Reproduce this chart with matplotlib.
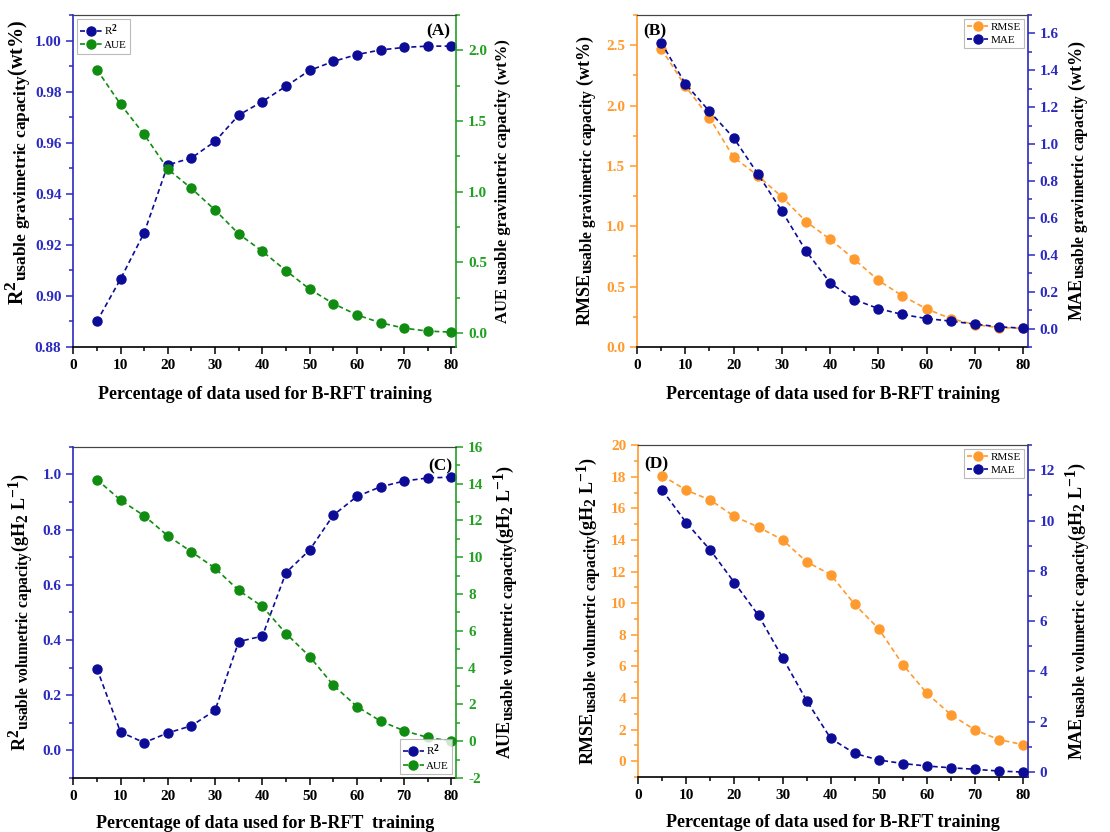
import matplotlib

matplotlib.use("Agg")
import matplotlib._mathtext as mathtext_impl
import matplotlib.pyplot as plt
from matplotlib.ticker import MultipleLocator

plt.rcParams["font.family"] = ["Liberation Serif", "DejaVu Serif"]
plt.rcParams["font.weight"] = "bold"
plt.rcParams["mathtext.fontset"] = "custom"
plt.rcParams["mathtext.rm"] = "Liberation Serif:bold"
plt.rcParams["mathtext.bf"] = "Liberation Serif:bold"
plt.rcParams["mathtext.it"] = "Liberation Serif:bold"
plt.rcParams["axes.unicode_minus"] = False
# subscripts in the source figure are nearly full size
mathtext_impl.SHRINK_FACTOR = 0.86

# training fraction (%)
pct = [5, 10, 15, 20, 25, 30, 35, 40, 45, 50, 55, 60, 65, 70, 75, 80]

# (A) gravimetric: R2 and AUE
grav_r2 = [0.890, 0.9066, 0.9247, 0.9513, 0.954, 0.9605, 0.9708, 0.9761,
           0.9821, 0.9883, 0.9918, 0.9945, 0.9963, 0.9973, 0.9978, 0.9978]
grav_aue = [1.863, 1.618, 1.404, 1.159, 1.022, 0.869, 0.700, 0.577,
            0.440, 0.309, 0.207, 0.127, 0.071, 0.033, 0.012, 0.005]

# (B) gravimetric: RMSE and MAE
grav_rmse = [2.470, 2.160, 1.898, 1.572, 1.420, 1.243, 1.039, 0.892,
             0.727, 0.552, 0.423, 0.315, 0.235, 0.185, 0.160, 0.155]
grav_mae = [1.550, 1.327, 1.177, 1.034, 0.839, 0.637, 0.421, 0.248,
            0.157, 0.108, 0.076, 0.054, 0.040, 0.024, 0.009, 0.002]

# (C) volumetric: R2 and AUE
vol_r2 = [0.296, 0.066, 0.028, 0.063, 0.089, 0.145, 0.394, 0.414,
          0.644, 0.726, 0.852, 0.920, 0.955, 0.976, 0.987, 0.990]
vol_aue = [14.22, 13.10, 12.25, 11.16, 10.29, 9.40, 8.19, 7.32,
           5.85, 4.60, 3.04, 1.88, 1.09, 0.56, 0.20, 0.0]

# (D) volumetric: RMSE and MAE
vol_rmse = [18.06, 17.15, 16.52, 15.49, 14.81, 14.01, 12.62, 11.81,
            9.92, 8.38, 6.12, 4.30, 2.95, 1.98, 1.37, 1.05]
vol_mae = [11.21, 9.91, 8.82, 7.53, 6.23, 4.55, 2.84, 1.34,
           0.74, 0.48, 0.34, 0.24, 0.17, 0.11, 0.04, 0.0]

BLUE = "#0c0c96"
BLUE_AX = "#2a2ac0"
GREEN = "#108c10"
GREEN_AX = "#22a022"
ORANGE = "#ff9a2e"
ORANGE_AX = "#ff9a2e"

XLABEL = "Percentage of data used for B-RFT training"
GRAV_SUB = r"{}_{\mathrm{usable\ gravimetric\ capacity}}"
VOL_SUB = r"{}_{\mathrm{usable\ volumetric\ capacity}}"
VOL_UNIT = r"(gH$_{\mathrm{2}}$ L$^{\mathrm{-1}}$)"


def _style_axis(axis, color, side):
    axis.spines[side].set_color(color)
    axis.spines[side].set_linewidth(1.2)
    axis.tick_params(axis="y", which="both", direction="out", colors=color,
                     labelsize=11, width=1.1)
    axis.tick_params(axis="y", which="major", length=5)
    axis.tick_params(axis="y", which="minor", length=3)


def draw_panel(fig, rect, left, right, letter, letter_pos, legend_loc,
               xlabel=XLABEL, xpad=10, left_label_xy=(-0.1, 0.5)):
    ax = fig.add_axes(rect)
    ax2 = ax.twinx()
    l_vals, l_name, l_color, l_axc, l_lim, l_major, l_minor, l_label, l_size = left
    r_vals, r_name, r_color, r_axc, r_lim, r_major, r_minor, r_label, r_size = right

    h1, = ax.plot(pct, l_vals, "--o", color=l_color, markersize=6.5, linewidth=1.2,
                  dashes=(3, 2), label=l_name, zorder=3)
    h2, = ax2.plot(pct, r_vals, "--o", color=r_color, markersize=6.5, linewidth=1.2,
                   dashes=(3, 2), label=r_name, zorder=3)

    ax.set_xlim(0, 81)
    ax.xaxis.set_major_locator(MultipleLocator(10))
    ax.xaxis.set_minor_locator(MultipleLocator(5))
    ax.tick_params(axis="x", which="both", direction="out", labelsize=11, width=1.1)
    ax.tick_params(axis="x", which="major", length=5)
    ax.tick_params(axis="x", which="minor", length=3)

    ax.set_ylim(*l_lim)
    ax.yaxis.set_major_locator(MultipleLocator(l_major))
    ax.yaxis.set_minor_locator(MultipleLocator(l_minor))
    ax2.set_ylim(*r_lim)
    ax2.yaxis.set_major_locator(MultipleLocator(r_major))
    ax2.yaxis.set_minor_locator(MultipleLocator(r_minor))

    _style_axis(ax, l_axc, "left")
    _style_axis(ax2, r_axc, "right")
    ax2.spines["left"].set_visible(False)
    ax.spines["right"].set_visible(False)
    ax2.spines["top"].set_color("#444444")
    ax.spines["top"].set_color("#444444")
    ax2.spines["bottom"].set_visible(False)
    ax.spines["bottom"].set_linewidth(1.2)

    ax.set_xlabel(xlabel, fontsize=13, fontweight="bold", labelpad=xpad)
    ax.set_ylabel(l_label, fontsize=l_size, fontweight="bold")
    ax.yaxis.set_label_coords(*left_label_xy)
    ax2.set_ylabel(r_label, fontsize=r_size, fontweight="bold", labelpad=6)

    ha = "right" if letter_pos[0] > 0.5 else "left"
    ax.text(letter_pos[0], letter_pos[1], letter, transform=ax.transAxes,
            fontsize=12.5, fontweight="bold", ha=ha, va="top", zorder=5)

    leg = ax2.legend([h1, h2], [l_name, r_name], loc=legend_loc,
                     prop={"family": "Liberation Serif", "weight": "normal", "size": 8},
                     frameon=True, fancybox=False, edgecolor="#aaaaaa",
                     handlelength=1.9, handletextpad=0.2, borderpad=0.3,
                     labelspacing=0.25, borderaxespad=0.35)
    leg.get_frame().set_linewidth(0.8)
    return ax, ax2


fig = plt.figure(figsize=(11.1, 8.32), dpi=100)

panels = [
    draw_panel(
        fig, [0.066, 0.583, 0.345, 0.399],
        (grav_r2, r"R$^{\mathrm{2}}$", BLUE, BLUE_AX, (0.88, 1.01), 0.02, 0.01,
         r"R$^{\mathrm{2}}" + GRAV_SUB + r"$(wt%)", 14.5),
        (grav_aue, "AUE", GREEN, GREEN_AX, (-0.1, 2.25), 0.5, 0.25,
         "AUE usable gravimetric capacity (wt%)", 12),
        "(A)", (0.985, 0.975), "upper left", left_label_xy=(-0.107, 0.555),
    ),
    draw_panel(
        fig, [0.574, 0.583, 0.352, 0.399],
        (grav_rmse, "RMSE", ORANGE, ORANGE_AX, (0.0, 2.75), 0.5, 0.25,
         r"RMSE$" + GRAV_SUB + r"$ (wt%)", 13),
        (grav_mae, "MAE", BLUE, BLUE_AX, (-0.1, 1.7), 0.2, 0.1,
         r"MAE$" + GRAV_SUB + r"$ (wt%)", 13),
        "(B)", (0.015, 0.975), "upper right", left_label_xy=(-0.095, 0.5),
    ),
    draw_panel(
        fig, [0.066, 0.065, 0.345, 0.398],
        (vol_r2, r"R$^{\mathrm{2}}$", BLUE, BLUE_AX, (-0.1, 1.1), 0.2, 0.1,
         r"R$^{\mathrm{2}}" + VOL_SUB + r"$" + VOL_UNIT, 13),
        (vol_aue, "AUE", GREEN, GREEN_AX, (-2, 16), 2, 1,
         r"AUE$" + VOL_SUB + r"$" + VOL_UNIT, 13),
        "(C)", (0.99, 0.965), "lower right",
        xlabel="Percentage of data used for B-RFT  training", xpad=9,
        left_label_xy=(-0.1, 0.5),
    ),
    draw_panel(
        fig, [0.575, 0.066, 0.351, 0.399],
        (vol_rmse, "RMSE", ORANGE, ORANGE_AX, (-1, 20), 2, 1,
         r"RMSE$" + VOL_SUB + r"$" + VOL_UNIT, 13),
        (vol_mae, "MAE", BLUE, BLUE_AX, (-0.2, 13), 2, 1,
         r"MAE$" + VOL_SUB + r"$" + VOL_UNIT, 13),
        "(D)", (0.015, 0.965), "upper right", xpad=9,
        left_label_xy=(-0.09, 0.5),
    ),
]

# tick labels are bold in the source figure
fig.canvas.draw()
for ax, ax2 in panels:
    for label in ax.get_xticklabels() + ax.get_yticklabels() + ax2.get_yticklabels():
        label.set_fontweight("bold")

fig.savefig("out.png", dpi=100)
